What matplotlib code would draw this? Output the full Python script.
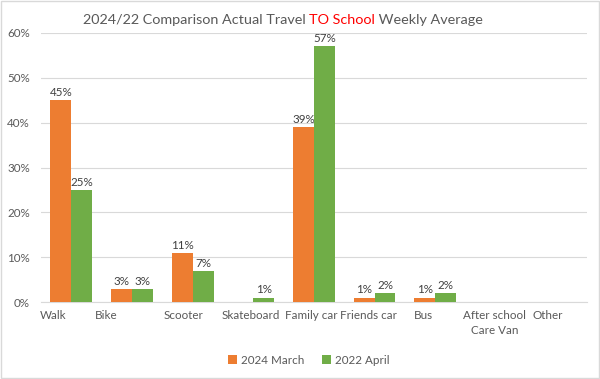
import matplotlib
matplotlib.use("Agg")
import matplotlib.pyplot as plt
from matplotlib.patches import Rectangle
import numpy as np

categories = ["Walk", "Bike", "Scooter", "Skateboard", "Family car", "Friends car",
              "Bus", "After school\nCare Van", "Other"]
series_names = ["2024 March", "2022 April"]
march_2024 = [45, 3, 11, 0, 39, 1, 1, 0, 0]
april_2022 = [25, 3, 7, 1, 57, 2, 2, 0, 0]
yticks = [0, 10, 20, 30, 40, 50, 60]

# horizontal shift of each category label (pixels), as laid out in the reference
label_shift_px = [-18, -26, -9, -2, -3, -6, -12, -1, -9]

plt.rcParams['font.family'] = ['Lato', 'DejaVu Sans']
TXT = '#595959'
FS = 8.4

fig = plt.figure(figsize=(6, 3.79), dpi=100)
ax = fig.add_axes([0.0683, 0.203, 0.9097, 0.710])

x = np.arange(len(categories))
w = 0.345
colors = ['#ED7D31', '#70AD47']
for i, (vals, name) in enumerate(zip([march_2024, april_2022], series_names)):
    pos = x + (i - 0.5) * w
    bars = ax.bar(pos, vals, w, color=colors[i], label=name, zorder=3)
    for b, v in zip(bars, vals):
        if v > 0:
            ax.annotate(f"{v}%", (b.get_x() + b.get_width() / 2, v),
                        xytext=(0, 1.5), textcoords='offset points',
                        ha='center', va='bottom', fontsize=FS, color='#404040')

ax.set_xlim(-0.5, len(categories) - 0.5)
ax.set_ylim(0, 60)
ax.set_yticks(yticks)
ax.set_yticklabels([f"{t}%" for t in yticks], fontsize=FS, color=TXT)
ax.yaxis.grid(True, color='#d9d9d9', linewidth=0.8, zorder=0)
ax.set_axisbelow(True)
ax.tick_params(axis='both', length=0)
ax.tick_params(axis='y', pad=8)

ax.set_xticks(x)
ax.set_xticklabels([])
for xi, cat, dx in zip(x, categories, label_shift_px):
    ax.annotate(cat, (xi, 0), xytext=(dx * 0.72, -5.5), textcoords='offset points',
                ha='center', va='top', multialignment='center', fontsize=FS,
                color=TXT, linespacing=1.5, annotation_clip=False)

for s in ['top', 'right', 'left']:
    ax.spines[s].set_visible(False)
ax.spines['bottom'].set_color('#d9d9d9')
ax.spines['bottom'].set_linewidth(0.8)

# Title with mixed colours
TFS = 10.4
t1 = fig.text(0.138, 0.948, "2024/22 Comparison Actual Travel ", fontsize=TFS,
              color=TXT, ha='left', va='center')
t2 = ax.annotate("TO School", xy=(1, 0), xycoords=t1, fontsize=TFS, color='#FF0000',
                 ha='left', va='bottom', annotation_clip=False)
t3 = ax.annotate(" Weekly Average", xy=(1, 0), xycoords=t2, fontsize=TFS, color=TXT,
                 ha='left', va='bottom', annotation_clip=False)

fig.legend(loc='center', bbox_to_anchor=(0.515, 0.05), ncol=2, frameon=False,
           fontsize=FS, handlelength=0.75, handleheight=0.75, handletextpad=0.35,
           columnspacing=1.5, labelcolor=TXT)

fig.patches.append(Rectangle((0.002, 0.003), 0.996, 0.994, transform=fig.transFigure,
                             fill=False, edgecolor='#d9d9d9', linewidth=1))

fig.savefig("out.png", dpi=100)
